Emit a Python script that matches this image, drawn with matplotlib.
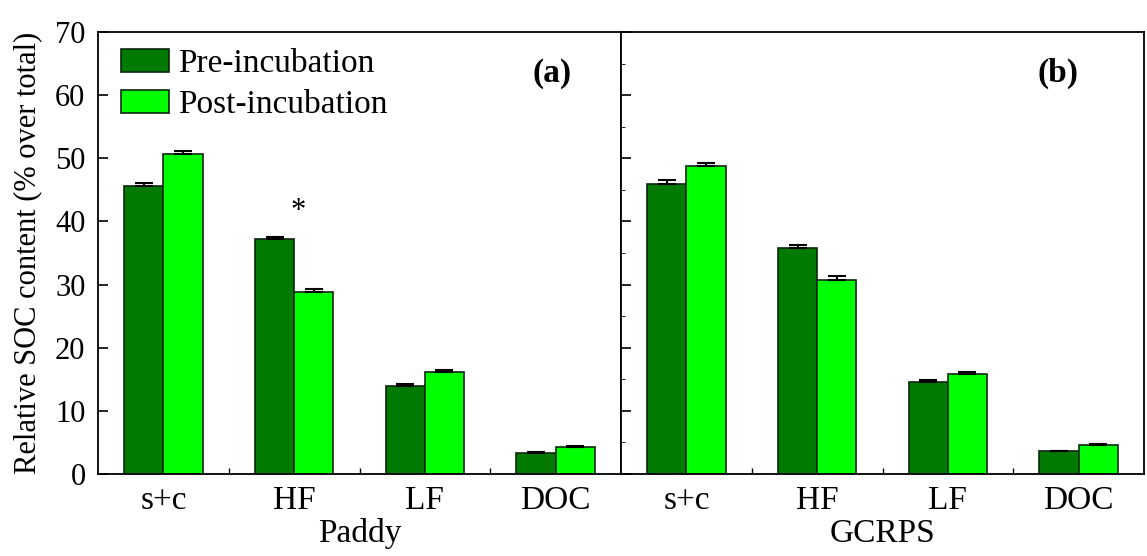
import numpy as np
import matplotlib.pyplot as plt
from matplotlib.ticker import MultipleLocator, FixedLocator

plt.rcParams['font.family'] = ['Liberation Serif', 'DejaVu Serif']

# data
fractions = ['s+c', 'HF', 'LF', 'DOC']
paddy_pre = [45.6, 37.2, 14.0, 3.3]
paddy_pre_err = [0.5, 0.4, 0.2, 0.2]
paddy_post = [50.7, 28.9, 16.1, 4.3]
paddy_post_err = [0.5, 0.4, 0.4, 0.1]
gcrps_pre = [46.0, 35.8, 14.6, 3.6]
gcrps_pre_err = [0.6, 0.5, 0.3, 0.1]
gcrps_post = [48.7, 30.8, 15.8, 4.6]
gcrps_post_err = [0.5, 0.5, 0.4, 0.2]
panels = [('Paddy', '(a)', 2.97, paddy_pre, paddy_pre_err, paddy_post, paddy_post_err),
          ('GCRPS', '(b)', 2.84, gcrps_pre, gcrps_pre_err, gcrps_post, gcrps_post_err)]

dark = '#007a00'
light = '#00ff00'
edge = '#0d260d'

fig = plt.figure(figsize=(11.47, 5.56), dpi=100)
left, bottom, top = 98/1147, 1 - 474/556, 1 - 32/556
pw = 523/1147
axes = [fig.add_axes([left, bottom, pw, top - bottom]),
        fig.add_axes([left + pw, bottom, pw, top - bottom])]

x = np.arange(len(fractions))
width = 0.3
ekw = dict(elinewidth=1.5, capthick=1.5, ecolor='black')
for ax, (name, tag, tagx, pre, pre_err, post, post_err) in zip(axes, panels):
    ax.bar(x - width/2, pre, width, color=dark, edgecolor=edge, linewidth=1.2,
           yerr=[np.zeros(4), pre_err], capsize=6.5, error_kw=ekw, label='Pre-incubation')
    ax.bar(x + width/2, post, width, color=light, edgecolor=edge, linewidth=1.2,
           yerr=[np.zeros(4), post_err], capsize=6.5, error_kw=ekw, label='Post-incubation')
    ax.set_xlim(-0.5, 3.5)
    ax.set_ylim(0, 70)
    ax.set_xticks(x)
    ax.set_xticklabels(fractions, fontsize=24)
    ax.xaxis.set_minor_locator(FixedLocator([0.5, 1.5, 2.5]))
    ax.yaxis.set_major_locator(MultipleLocator(10))
    ax.tick_params(axis='y', which='major', direction='in', length=7, width=1.2,
                   labelsize=22, pad=9)
    ax.tick_params(axis='x', which='major', length=0, pad=8)
    ax.tick_params(axis='x', which='minor', direction='in', length=4, width=1)
    ax.set_xlabel(name, fontsize=24, labelpad=2)
    for s in ax.spines.values():
        s.set_linewidth(1.3)
    ax.text(tagx, 63.5, tag, fontsize=24, fontweight='bold', ha='center', va='center')

axes[0].set_ylabel('Relative SOC content (% over total)', fontsize=22, labelpad=9)
axes[0].text(1.03, 41.5, '*', fontsize=22, ha='center', va='center')
axes[1].tick_params(axis='y', labelleft=False)
axes[1].yaxis.set_minor_locator(MultipleLocator(5))
axes[1].tick_params(axis='y', which='minor', direction='in', length=3)

axes[0].legend(loc='upper left', bbox_to_anchor=(0.044, 0.962), fontsize=24, frameon=False,
               handlelength=1.45, handleheight=0.7, handletextpad=0.25, labelspacing=0.32,
               borderaxespad=0, borderpad=0)

fig.savefig('out.png', dpi=100)
